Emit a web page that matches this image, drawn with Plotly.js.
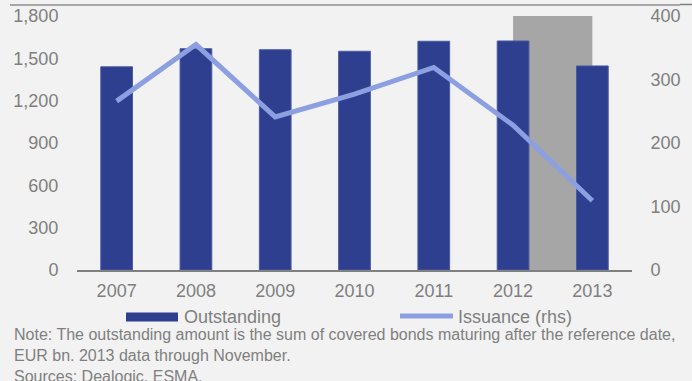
<!DOCTYPE html>
<html>
<head>
<meta charset="utf-8">
<script src="https://cdn.plot.ly/plotly-3.0.1.min.js"></script>
<style>
html,body{margin:0;padding:0;background:#f2f2f2;}
#chart{width:692px;height:381px;}
</style>
</head>
<body>
<div id="chart"></div>
<script>
// ---- data ----
const years = ['2007','2008','2009','2010','2011','2012','2013'];
const outstanding = [1440, 1568, 1561, 1550, 1621, 1623, 1446];
const issuance = [266, 355, 241, 277, 319, 228, 109];
const seriesNames = ['Outstanding', 'Issuance (rhs)'];
const leftTicks = [0, 300, 600, 900, 1200, 1500, 1800];
const rightTicks = [0, 100, 200, 300, 400];
const highlightFrom = '2012';
const highlightTo = '2013';
const highlightTop = 1800;
const noteLines = [
  'Note: The outstanding amount is the sum of covered bonds maturing after the reference date,',
  'EUR bn. 2013 data through November.',
  'Sources: Dealogic, ESMA.'
];

// ---- styles ----
const FONT = 'Liberation Sans, Arial, sans-serif';
const GREY = '#7f7f7f';
const BAR = '#2e3f8f';
const LINE = '#8c9fe0';

const traces = [
  {
    type: 'bar', x: years, y: outstanding, name: seriesNames[0],
    marker: {color: BAR, line: {color: '#4a5aa0', width: 1}},
    width: 0.4, showlegend: false, hoverinfo: 'x+y'
  },
  {
    type: 'scatter', mode: 'lines', x: years, y: issuance, name: seriesNames[1],
    yaxis: 'y2', line: {color: LINE, width: 5}, showlegend: false
  }
];

const W = 692, H = 381, ML = 77, MR = 60, MT = 16, MB = 111;
const PW = W - ML - MR, PH = H - MT - MB;
const px = v => (v - ML) / PW;          // pixel x -> paper
const py = v => (H - MB - v) / PH;      // pixel y -> paper

const layout = {
  width: W, height: H,
  margin: {l: ML, r: MR, t: MT, b: MB, pad: 0},
  paper_bgcolor: '#f2f2f2', plot_bgcolor: '#f2f2f2',
  font: {family: FONT, size: 18, color: GREY},
  showlegend: false,
  xaxis: {
    type: 'category', categoryorder: 'array', categoryarray: years,
    showgrid: false, zeroline: false,
    showline: true, linecolor: '#808080', linewidth: 2,
    ticks: 'outside', ticklen: 3, tickcolor: 'rgba(0,0,0,0)',
    tickfont: {family: FONT, size: 18, color: GREY},
    fixedrange: true
  },
  yaxis: {
    range: [0, 1800], tickvals: leftTicks, tickformat: ',',
    showgrid: false, zeroline: false, showline: false,
    ticks: 'outside', ticklen: 14, tickcolor: 'rgba(0,0,0,0)',
    tickfont: {family: FONT, size: 18, color: GREY},
    fixedrange: true
  },
  yaxis2: {
    overlaying: 'y', side: 'right',
    range: [0, 400], tickvals: rightTicks,
    showgrid: false, zeroline: false, showline: false,
    ticks: 'outside', ticklen: 14, tickcolor: 'rgba(0,0,0,0)',
    tickfont: {family: FONT, size: 18, color: GREY},
    fixedrange: true
  },
  shapes: [
    {
      type: 'rect', layer: 'below',
      xref: 'x', yref: 'y',
      x0: years.indexOf(highlightFrom), x1: years.indexOf(highlightTo),
      y0: 0, y1: highlightTop,
      fillcolor: '#a6a6a6', line: {width: 0}
    },
    // top rule (cut-off header)
    {type: 'line', xref: 'paper', yref: 'paper', x0: px(10), x1: px(680), y0: py(5), y1: py(5),
     line: {color: '#8c8c8c', width: 1.5}},
    {type: 'line', xref: 'paper', yref: 'paper', x0: px(680), x1: px(692), y0: py(4.5), y1: py(4.5),
     line: {color: '#7f7f7f', width: 1.5}},
    // custom legend symbols
    {type: 'rect', xref: 'paper', yref: 'paper', x0: px(126), x1: px(178), y0: py(312.5), y1: py(321.5),
     fillcolor: BAR, line: {width: 0}},
    {type: 'line', xref: 'paper', yref: 'paper', x0: px(400), x1: px(453), y0: py(316), y1: py(316),
     line: {color: LINE, width: 5}}
  ],
  annotations: [
    {xref: 'paper', yref: 'paper', x: px(182), y: py(317), xanchor: 'left', yanchor: 'middle',
     text: seriesNames[0], showarrow: false, font: {family: FONT, size: 18, color: GREY}},
    {xref: 'paper', yref: 'paper', x: px(456), y: py(317), xanchor: 'left', yanchor: 'middle',
     text: seriesNames[1], showarrow: false, font: {family: FONT, size: 18, color: GREY}},
    {xref: 'paper', yref: 'paper', x: px(12), y: py(324), xanchor: 'left', yanchor: 'top', align: 'left',
     text: noteLines.join('<br>'), showarrow: false, font: {family: FONT, size: 16, color: GREY}}
  ]
};

Plotly.newPlot('chart', traces, layout, {displayModeBar: false, staticPlot: true});
</script>
</body>
</html>
